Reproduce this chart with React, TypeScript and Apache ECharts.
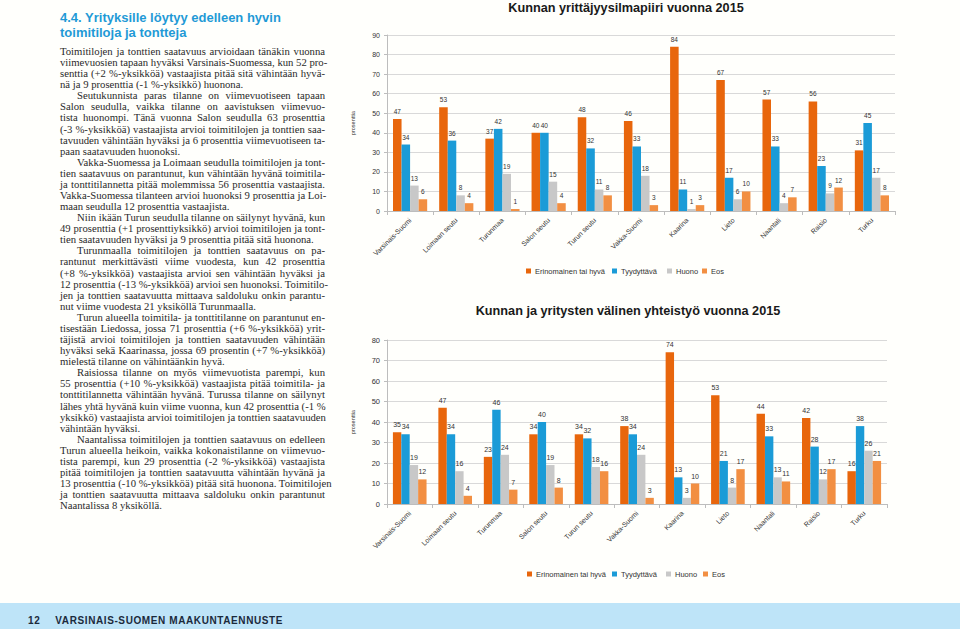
import React, { useEffect, useRef } from "react";
import * as echarts from "echarts";

const categories = [
  "Varsinais-Suomi",
  "Loimaan seutu",
  "Turunmaa",
  "Salon seutu",
  "Turun seutu",
  "Vakka-Suomi",
  "Kaarina",
  "Lieto",
  "Naantali",
  "Raisio",
  "Turku",
];
const seriesNames = ["Erinomainen tai hyvä", "Tyydyttävä", "Huono", "Eos"];
const seriesColors = ["#e8660c", "#1b9bd7", "#c8c8c8", "#f28f42"];

const chart1Title = "Kunnan yrittäjyysilmapiiri vuonna 2015";
const chart1Hyva = [47, 53, 37, 40, 48, 46, 84, 67, 57, 56, 31];
const chart1Tyydyttava = [34, 36, 42, 40, 32, 33, 11, 17, 33, 23, 45];
const chart1Huono = [13, 8, 19, 15, 11, 18, 1, 6, 4, 9, 17];
const chart1Eos = [6, 4, 1, 4, 8, 3, 3, 10, 7, 12, 8];

const chart2Title = "Kunnan ja yritysten välinen yhteistyö vuonna 2015";
const chart2Hyva = [35, 47, 23, 34, 34, 38, 74, 53, 44, 42, 16];
const chart2Tyydyttava = [34, 34, 46, 40, 32, 34, 13, 21, 33, 28, 38];
const chart2Huono = [19, 16, 24, 19, 18, 24, 3, 8, 13, 12, 26];
const chart2Eos = [12, 4, 7, 8, 16, 3, 10, 17, 11, 17, 21];

const yAxisName = "prosenttia";

const headingLines = ["4.4. Yrityksille löytyy edelleen hyvin", "toimitiloja ja tontteja"];

// [text, isParagraphStart, isParagraphEnd]
const bodyLines: [string, boolean, boolean][] = [
  ["Toimitilojen ja tonttien saatavuus arvioidaan tänäkin vuonna", false, false],
  ["viimevuosien tapaan hyväksi Varsinais-Suomessa, kun 52 pro-", false, false],
  ["senttia (+2 %-yksikköä) vastaajista pitää sitä vähintään hyvä-", false, false],
  ["nä ja 9 prosenttia (-1 %-yksikkö) huonona.", false, true],
  ["Seutukunnista paras tilanne on viimevuotiseen tapaan", true, false],
  ["Salon seudulla, vaikka tilanne on aavistuksen viimevuo-", false, false],
  ["tista huonompi. Tänä vuonna Salon seudulla 63 prosenttia", false, false],
  ["(-3 %-yksikköä) vastaajista arvioi toimitilojen ja tonttien saa-", false, false],
  ["tavuuden vähintään hyväksi ja 6 prosenttia viimevuotiseen ta-", false, false],
  ["paan saatavuuden huonoksi.", false, true],
  ["Vakka-Suomessa ja Loimaan seudulla toimitilojen ja tont-", true, false],
  ["tien saatavuus on parantunut, kun vähintään hyvänä toimitila-", false, false],
  ["ja tonttitilannetta pitää molemmissa 56 prosenttia vastaajista.", false, false],
  ["Vakka-Suomessa tilanteen arvioi huonoksi 9 prosenttia ja Loi-", false, false],
  ["maan seudulla 12 prosenttia vastaajista.", false, true],
  ["Niin ikään Turun seudulla tilanne on säilynyt hyvänä, kun", true, false],
  ["49 prosenttia (+1 prosenttiyksikkö) arvioi toimitilojen ja tont-", false, false],
  ["tien saatavuuden hyväksi ja 9 prosenttia pitää sitä huonona.", false, true],
  ["Turunmaalla toimitilojen ja tonttien saatavuus on pa-", true, false],
  ["rantunut merkittävästi viime vuodesta, kun 42 prosenttia", false, false],
  ["(+8 %-yksikköä) vastaajista arvioi sen vähintään hyväksi ja", false, false],
  ["12 prosenttia (-13 %-yksikköä) arvioi sen huonoksi. Toimitilo-", false, false],
  ["jen ja tonttien saatavuutta mittaava saldoluku onkin parantu-", false, false],
  ["nut viime vuodesta 21 yksiköllä Turunmaalla.", false, true],
  ["Turun alueella toimitila- ja tonttitilanne on parantunut en-", true, false],
  ["tisestään Liedossa, jossa 71 prosenttia (+6 %-yksikköä) yrit-", false, false],
  ["täjistä arvioi toimitilojen ja tonttien saatavuuden vähintään", false, false],
  ["hyväksi sekä Kaarinassa, jossa 69 prosentin (+7 %-yksikköä)", false, false],
  ["mielestä tilanne on vähintäänkin hyvä.", false, true],
  ["Raisiossa tilanne on myös viimevuotista parempi, kun", true, false],
  ["55 prosenttia (+10 %-yksikköä) vastaajista pitää toimitila- ja", false, false],
  ["tonttitilannetta vähintään hyvänä. Turussa tilanne on säilynyt", false, false],
  ["lähes yhtä hyvänä kuin viime vuonna, kun 42 prosenttia (-1 %", false, false],
  ["yksikkö) vastaajista arvioi toimitilojen ja tonttien saatavuuden", false, false],
  ["vähintään hyväksi.", false, true],
  ["Naantalissa toimitilojen ja tonttien saatavuus on edelleen", true, false],
  ["Turun alueella heikoin, vaikka kokonaistilanne on viimevuo-", false, false],
  ["tista parempi, kun 29 prosenttia (-2 %-yksikköä) vastaajista", false, false],
  ["pitää toimitilojen ja tonttien saatavuutta vähintään hyvänä ja", false, false],
  ["13 prosenttia (-10 %-yksikköä) pitää sitä huonona. Toimitilojen", false, false],
  ["ja tonttien saatavuutta mittaava saldoluku onkin parantunut", false, false],
  ["Naantalissa 8 yksiköllä.", false, true],
];

const footerPage = "12";
const footerText = "VARSINAIS-SUOMEN MAAKUNTAENNUSTE";

const FONT = "Liberation Sans, Arial, sans-serif";

function makeAxes(gridIndex: number, max: number, labelSize: number) {
  return {
    x: {
      type: "category",
      gridIndex,
      data: categories,
      axisLine: { lineStyle: { color: "#bdbdbd" } },
      axisTick: { show: true, length: 4, lineStyle: { color: "#bdbdbd" } },
      axisLabel: {
        rotate: 45,
        interval: 0,
        fontSize: 7,
        color: "#333",
        margin: 8,
        fontFamily: FONT,
      },
    },
    y: {
      type: "value",
      gridIndex,
      min: 0,
      max,
      interval: 10,
      axisLine: { show: true, lineStyle: { color: "#bdbdbd" } },
      axisTick: { show: true, length: 3, lineStyle: { color: "#bdbdbd" } },
      splitLine: { lineStyle: { color: "#d9d9d9" } },
      axisLabel: { fontSize: labelSize, color: "#333", margin: 7, fontFamily: FONT },
      name: yAxisName,
      nameLocation: "middle",
      nameGap: 31,
      nameTextStyle: { fontSize: 5.5, color: "#333", fontFamily: FONT },
    },
  };
}

function makeSeries(gridIndex: number, data: number[][], labelSize: number) {
  return data.map((values, i) => ({
    name: seriesNames[i],
    type: "bar",
    xAxisIndex: gridIndex,
    yAxisIndex: gridIndex,
    data: values,
    barGap: "0%",
    barCategoryGap: "26%",
    itemStyle: { color: seriesColors[i] },
    label: {
      show: true,
      position: "top",
      distance: 4,
      fontSize: labelSize,
      color: "#333",
      fontFamily: FONT,
    },
  }));
}

// legend item left positions (chart-local) and tops
const legend1Lefts = [186, 272, 327, 362];
const legend2Lefts = [187, 272, 326, 363];

function Charts() {
  const ref = useRef<HTMLDivElement>(null);
  useEffect(() => {
    if (!ref.current) return;
    const chart = echarts.init(ref.current, undefined, { renderer: "svg" });
    const a1 = makeAxes(0, 90, 7);
    const a2 = makeAxes(1, 80, 7.5);
    const legendItem = (name: string, left: number, top: number) => ({
      data: [name],
      left,
      top,
      padding: 0,
      icon: "rect",
      itemWidth: 5,
      itemHeight: 5,
      itemGap: 0,
      textStyle: { fontSize: 7.5, color: "#333", fontFamily: FONT, padding: [0, 0, 0, -1] },
      selectedMode: false,
    });
    chart.setOption({
      animation: false,
      backgroundColor: "transparent",
      graphic: [
        {
          type: "text",
          x: 286,
          y: 1,
          style: {
            text: chart1Title,
            align: "center",
            verticalAlign: "top",
            fontSize: 12.7,
            fontWeight: "bold",
            fontFamily: FONT,
            fill: "#1a1a1a",
          },
        },
        {
          type: "text",
          x: 288,
          y: 304,
          style: {
            text: chart2Title,
            align: "center",
            verticalAlign: "top",
            fontSize: 12.7,
            fontWeight: "bold",
            fontFamily: FONT,
            fill: "#1a1a1a",
          },
        },
      ],
      legend: [
        ...seriesNames.map((n, i) => legendItem(n, legend1Lefts[i], 267)),
        ...seriesNames.map((n, i) => legendItem(n, legend2Lefts[i], 570)),
      ],
      grid: [
        { left: 47, top: 35, width: 508, height: 176 },
        { left: 47, top: 340, width: 500, height: 164 },
      ],
      xAxis: [a1.x, a2.x],
      yAxis: [a1.y, a2.y],
      series: [
        ...makeSeries(0, [chart1Hyva, chart1Tyydyttava, chart1Huono, chart1Eos], 6.5),
        ...makeSeries(1, [chart2Hyva, chart2Tyydyttava, chart2Huono, chart2Eos], 7),
      ],
    });
    return () => chart.dispose();
  }, []);
  return (
    <div
      ref={ref}
      style={{ position: "absolute", left: 340, top: 0, width: 620, height: 600 }}
    />
  );
}

export default function App() {
  return (
    <div
      style={{
        position: "fixed",
        left: 0,
        top: 0,
        width: 960,
        height: 629,
        background: "#fffffc",
        overflow: "hidden",
      }}
    >
      <div
        style={{
          position: "absolute",
          left: 60,
          top: 11,
          fontFamily: FONT,
          fontWeight: "bold",
          fontSize: 13,
          lineHeight: "14.6px",
          color: "#1f9ad6",
          whiteSpace: "nowrap",
        }}
      >
        {headingLines.map((l, i) => (
          <div key={i}>{l}</div>
        ))}
      </div>
      <div
        style={{
          position: "absolute",
          left: 60,
          top: 46,
          width: 265,
          fontFamily: "Liberation Serif, Times New Roman, serif",
          fontSize: 10.7,
          lineHeight: "11.08px",
          color: "#2a2a2a",
        }}
      >
        {bodyLines.map(([t, start, end], i) => (
          <div
            key={i}
            style={{
              height: 11.08,
              whiteSpace: "nowrap",
              textAlign: end ? "left" : "justify",
              textAlignLast: end ? "left" : "justify",
              textIndent: start ? 17 : 0,
            }}
          >
            {t}
          </div>
        ))}
      </div>
      <Charts />
      <div
        style={{
          position: "absolute",
          left: 0,
          top: 603,
          width: 960,
          height: 26,
          background: "#bee4f8",
        }}
      >
        <div
          style={{
            position: "absolute",
            left: 28,
            top: 12,
            fontFamily: FONT,
            fontWeight: "bold",
            fontSize: 10,
            letterSpacing: 0.6,
            color: "#1b2a3c",
            whiteSpace: "nowrap",
            lineHeight: "12px",
          }}
        >
          <span>{footerPage}</span>
          <span style={{ marginLeft: 15 }}>{footerText}</span>
        </div>
      </div>
    </div>
  );
}
